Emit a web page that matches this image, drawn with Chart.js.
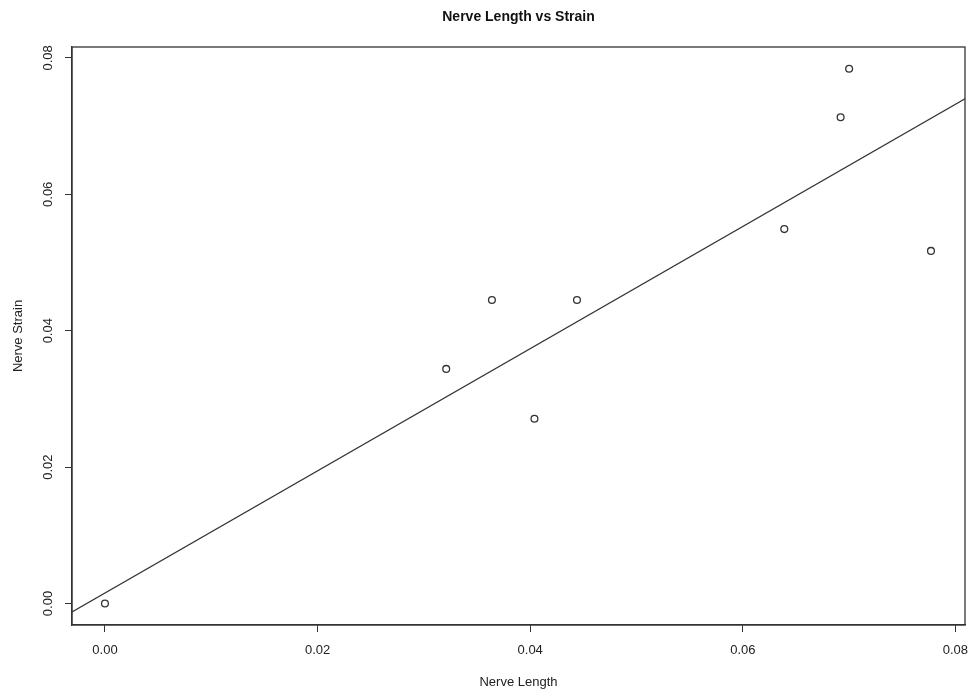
<!DOCTYPE html>
<html>
<head>
<meta charset="utf-8">
<script src="https://cdn.jsdelivr.net/npm/chart.js@4.4.1/dist/chart.umd.min.js"></script>
<style>
  html, body { margin: 0; padding: 0; background: #fff; }
  #wrap { width: 973px; height: 692px; }
</style>
</head>
<body>
<div id="wrap"><canvas id="chart"></canvas></div>
<script>
// nerve length / strain observations
const nerveLength = [0.0, 0.0321, 0.0364, 0.0404, 0.0444, 0.0639, 0.0692, 0.0700, 0.0777];
const nerveStrain = [0.0, 0.0344, 0.0445, 0.0271, 0.0445, 0.0549, 0.0713, 0.0784, 0.0517];

// fitted line, read at the plot edges
const fitX = [-0.0031, 0.0809];
const fitY = [-0.00125, 0.0740];

const tickValues = [0, 0.02, 0.04, 0.06, 0.08];
const chartTitle = 'Nerve Length vs Strain';

const tickFont = { family: 'Liberation Sans, Arial, sans-serif', size: 13 };
const ink = '#333333';

// R-style: box round the plot and the title centred over the plot region
const boxPlugin = {
  id: 'box',
  afterDraw(chart) {
    const { ctx, chartArea: a } = chart;
    ctx.save();
    ctx.strokeStyle = ink;
    ctx.lineWidth = 1.3;
    ctx.strokeRect(a.left, a.top, a.right - a.left, a.bottom - a.top);
    ctx.fillStyle = '#111';
    ctx.font = 'bold 14px "Liberation Sans", Arial, sans-serif';
    ctx.textAlign = 'center';
    ctx.textBaseline = 'middle';
    ctx.fillText(chartTitle, (a.left + a.right) / 2, 17);
    ctx.restore();
  }
};

const ctx = document.getElementById('chart');
new Chart(ctx, {
  type: 'scatter',
  data: {
    datasets: [
      {
        label: 'fit',
        type: 'line',
        data: fitX.map((x, i) => ({ x: x, y: fitY[i] })),
        borderColor: ink,
        borderWidth: 1.2,
        pointRadius: 0,
        fill: false
      },
      {
        label: 'points',
        data: nerveLength.map((x, i) => ({ x: x, y: nerveStrain[i] })),
        pointStyle: 'circle',
        pointRadius: 3.4,
        pointBorderWidth: 1.3,
        pointBorderColor: ink,
        pointBackgroundColor: 'rgba(0,0,0,0)'
      }
    ]
  },
  options: {
    responsive: true,
    maintainAspectRatio: false,
    animation: false,
    layout: { padding: { top: 47, right: 8, bottom: 0, left: 0 } },
    plugins: {
      legend: { display: false },
      tooltip: { enabled: false },
      title: { display: false }
    },
    scales: {
      x: {
        type: 'linear',
        min: -0.0031,
        max: 0.0809,
        afterFit: (s) => { s.height = 67; s.paddingLeft = 0; s.paddingRight = 0; },
        afterBuildTicks: (s) => { s.ticks = tickValues.map(v => ({ value: v })); },
        grid: { drawOnChartArea: false, drawTicks: true, tickLength: 7, color: ink },
        border: { display: true, color: ink, width: 1.3 },
        ticks: {
          color: '#222',
          font: tickFont,
          padding: 11,
          maxRotation: 0,
          callback: (v) => v.toFixed(2)
        },
        title: {
          display: true,
          text: 'Nerve Length',
          color: '#222',
          font: tickFont,
          padding: { top: 0, bottom: 2 }
        }
      },
      y: {
        type: 'linear',
        min: -0.00315,
        max: 0.0816,
        afterFit: (s) => { s.width = 72; s.paddingTop = 0; s.paddingBottom = 0; },
        afterBuildTicks: (s) => { s.ticks = tickValues.map(v => ({ value: v })); },
        grid: { drawOnChartArea: false, drawTicks: true, tickLength: 7, color: ink },
        border: { display: true, color: ink, width: 1.3 },
        ticks: {
          color: '#222',
          font: tickFont,
          padding: 4,
          minRotation: 90,
          maxRotation: 90,
          crossAlign: 'center',
          callback: (v) => v.toFixed(2)
        },
        title: {
          display: true,
          text: 'Nerve Strain',
          color: '#222',
          font: tickFont,
          padding: { top: 11, bottom: 0 }
        }
      }
    }
  },
  plugins: [boxPlugin]
});
</script>
</body>
</html>
